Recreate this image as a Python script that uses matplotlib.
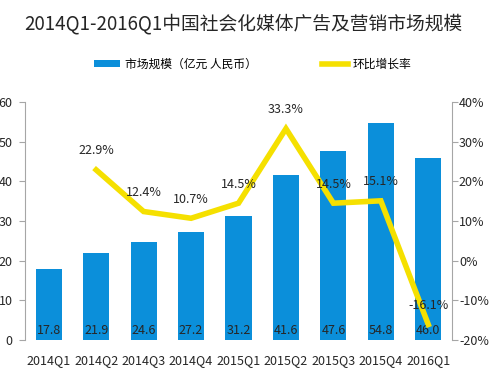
import numpy as np
import matplotlib.pyplot as plt
from matplotlib.ticker import FuncFormatter

plt.rcParams['font.family'] = ['Noto Sans CJK SC', 'DejaVu Sans']

quarters = ['2014Q1', '2014Q2', '2014Q3', '2014Q4', '2015Q1',
            '2015Q2', '2015Q3', '2015Q4', '2016Q1']
market_size = [17.8, 21.9, 24.6, 27.2, 31.2, 41.6, 47.6, 54.8, 46.0]
growth = [None, 22.9, 12.4, 10.7, 14.5, 33.3, 14.5, 15.1, -16.1]

bar_color = '#0B8FDA'
line_color = '#F5E000'
axis_color = '#A6A6A6'
text_color = '#262626'

fig = plt.figure(figsize=(5, 3.74), dpi=100)
ax = fig.add_axes([0.05, 0.091, 0.854, 0.636])
ax2 = ax.twinx()

x = np.arange(len(quarters))
bars = ax.bar(x, market_size, width=0.55, color=bar_color, zorder=2,
              label='市场规模（亿元 人民币）')
ax.set_ylim(0, 60)
ax.set_yticks(np.arange(0, 61, 10))
ax.set_xlim(-0.5, len(quarters) - 0.5)
ax.set_xticks(x)
ax.set_xticklabels(quarters, fontsize=8.5, color=text_color)

# value labels at the bottom of bars
for xi, v in zip(x, market_size):
    ax.text(xi, 2.5, f'{v:.1f}', ha='center', va='center',
            fontsize=9, color=text_color, zorder=3)

gx = [i for i, g in enumerate(growth) if g is not None]
gy = [g for g in growth if g is not None]
ax2.plot(gx, gy, color=line_color, lw=4, solid_joinstyle='miter',
         label='环比增长率', zorder=4)
ax2.set_ylim(-20, 40)
ax2.set_yticks(np.arange(-20, 41, 10))
ax2.yaxis.set_major_formatter(FuncFormatter(lambda v, p: f'{v:.0f}%'))
for xi, g in zip(gx, gy):
    ax2.text(xi, g + 3.2, f'{g:.1f}%', ha='center', va='bottom',
             fontsize=9, color=text_color, zorder=5)

for a in (ax, ax2):
    for side in ('top', 'bottom'):
        a.spines[side].set_visible(False)
    a.tick_params(colors=axis_color, labelcolor=text_color, labelsize=9,
                  length=4, width=0.8)
ax.spines['left'].set_color(axis_color)
ax.spines['right'].set_visible(False)
ax2.spines['right'].set_color(axis_color)
ax2.spines['left'].set_visible(False)
ax.tick_params(axis='x', length=0, pad=10)
ax.tick_params(axis='y', pad=5)
ax2.tick_params(axis='y', pad=1)

fig.text(0.486, 0.935, '2014Q1-2016Q1中国社会化媒体广告及营销市场规模',
         ha='center', va='center', fontsize=13.5, color=text_color)

handles = [bars, ax2.get_lines()[0]]
fig.legend(handles, [h.get_label() for h in handles], loc='center',
           bbox_to_anchor=(0.505, 0.828), ncol=2, frameon=False,
           fontsize=8.5, handlelength=2.2, columnspacing=5.5,
           handleheight=0.5, handletextpad=0.4)

fig.savefig('out.png', dpi=100)
